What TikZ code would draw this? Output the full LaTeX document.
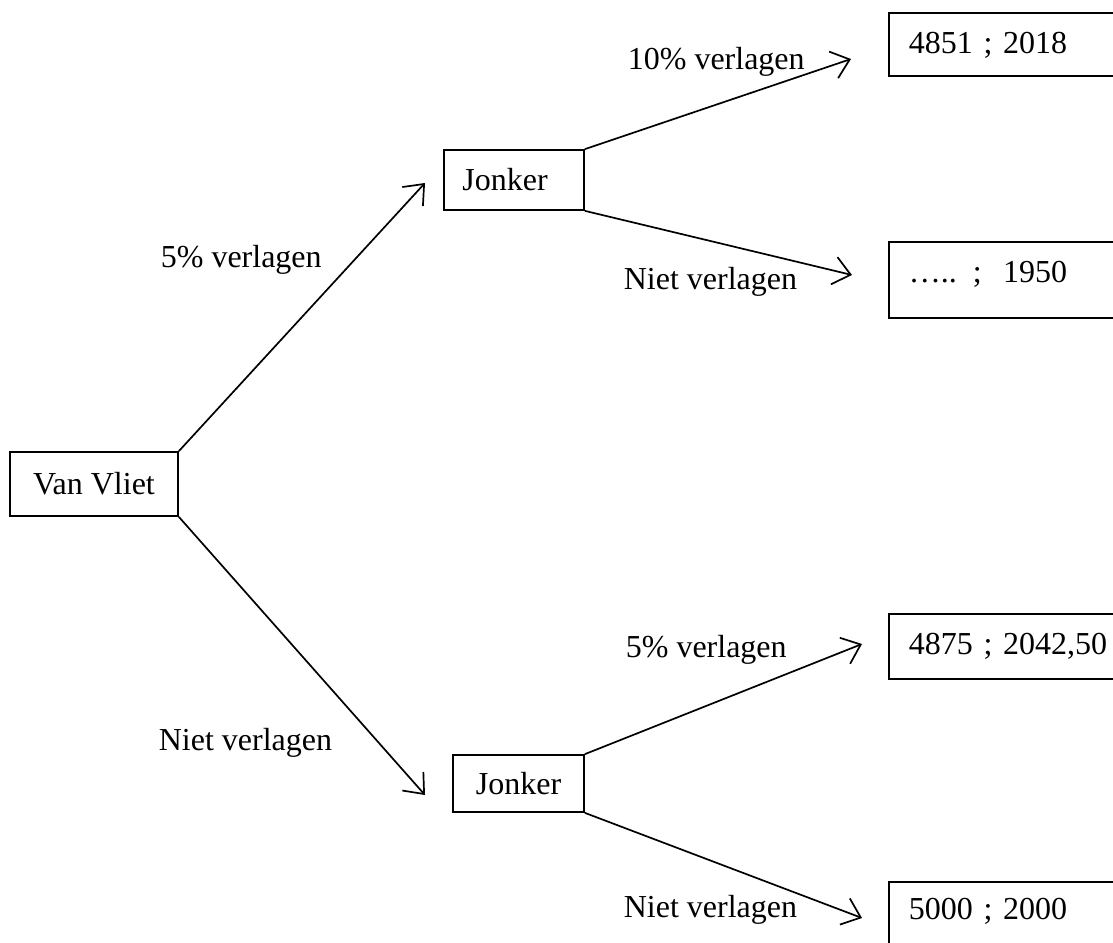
\documentclass[tikz,border=0pt]{standalone}
\usepackage{fontspec}
\setmainfont{Liberation Serif}
\usepackage{tikz}
\usetikzlibrary{arrows.meta,positioning}

\begin{document}
\begin{tikzpicture}[x=0.5pt,y=-0.5pt,line width=0.85pt,
    font=\fontsize{16}{19}\selectfont,
    box/.style={draw,rectangle,inner sep=0pt},
    uitkomst/.style={draw,anchor=north west,inner xsep=10pt,inner ysep=9.5pt,
        text width=140pt,align=left,text height=11pt},
    tak/.style={-{Straight Barb[length=8.5pt,width=14pt]}}]
   \useasboundingbox (0,0) rectangle (1113,942);
   % beslissers
   \node[box,minimum width=84pt,minimum height=32pt] (vv) at (94,484) {Van Vliet};
   \node[box,minimum width=70pt,minimum height=30pt] (j1) at (514,180) {Jonker\kern9pt};
   \node[box,minimum width=65.5pt,minimum height=28.5pt] (j2) at (518.5,783.5) {Jonker};
   % uitkomsten
   \node[uitkomst,text depth=1.5pt] (u1) at (888,12) {4851 ; 2018};
   \node[uitkomst,text depth=8pt] (u2) at (888,241) {\dots.. ;\ \ 1950};
   \node[uitkomst,text depth=2.5pt] (u3) at (888,613) {4875 ; 2042,50};
   \node[uitkomst,text depth=4pt,inner ysep=8pt] (u4) at (888,881) {5000 ; 2000};
   % pijlpunten
   \coordinate (t1) at (851,59);
   \coordinate (t2) at (852,275);
   \coordinate (t3) at (862,644);
   \coordinate (t4) at (862,918);
   \coordinate (t5) at (425,183);
   \coordinate (t6) at (425,795);
    \path[tak]
    (vv.north east) edge (t5)
    (vv.south east) edge (t6)
    (j1.north east) edge (t1)
    (j1.south east) edge (t2)
    (j2.north east) edge (t3)
    (j2.south east) edge (t4);
   % labels
   \node[anchor=base west,inner sep=0pt] (l1) at (627,69) {10\% verlagen};
   \node[anchor=base west,inner sep=0pt] (l2) at (623,289) {Niet verlagen};
   \node[anchor=base west,inner sep=0pt] (l3) at (625,657) {5\% verlagen};
   \node[anchor=base west,inner sep=0pt] (l4) at (623,917) {Niet verlagen};
   \node[anchor=base west,inner sep=0pt] (l5) at (160,267) {5\% verlagen};
   \node[anchor=base west,inner sep=0pt] (l6) at (158,750) {Niet verlagen};
\end{tikzpicture}
\end{document}
